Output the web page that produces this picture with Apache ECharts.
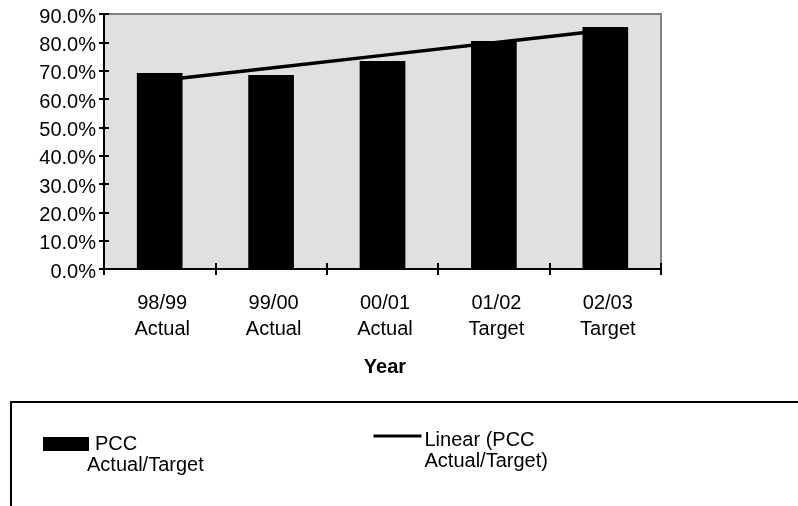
<!DOCTYPE html>
<html>
<head>
<meta charset="utf-8">
<script src="https://cdn.jsdelivr.net/npm/echarts@6/dist/echarts.min.js"></script>
<style>
  html, body { margin: 0; padding: 0; background: #fff; }
  #chart { width: 798px; height: 506px; }
</style>
</head>
<body>
<div id="chart"></div>
<script>
// Year labels and status shown under each bar
const years = ['98/99', '99/00', '00/01', '01/02', '02/03'];
const phases = ['Actual', 'Actual', 'Actual', 'Target', 'Target'];
// PCC actual / target percentages
const pccValues = [69.2, 68.5, 73.4, 80.5, 85.4];
// Value axis ticks
const yMin = 0;
const yMax = 90;
const yStep = 10;

const barName = 'PCC Actual/Target';
const trendName = 'Linear (PCC Actual/Target)';

const categories = years.map((y, i) => y + '\n' + phases[i]);

// Least-squares linear trend through the PCC values
function linearTrend(values) {
  const n = values.length;
  const xs = values.map((_, i) => i + 1);
  const mx = xs.reduce((a, b) => a + b, 0) / n;
  const my = values.reduce((a, b) => a + b, 0) / n;
  let sxy = 0, sxx = 0;
  for (let i = 0; i < n; i++) {
    sxy += (xs[i] - mx) * (values[i] - my);
    sxx += (xs[i] - mx) * (xs[i] - mx);
  }
  const slope = sxy / sxx;
  const icpt = my - slope * mx;
  return xs.map(x => icpt + slope * x);
}
const trendValues = linearTrend(pccValues);

const FONT = '"Liberation Sans", Arial, sans-serif';

const chart = echarts.init(document.getElementById('chart'), null, { renderer: 'canvas' });

chart.setOption({
  animation: false,
  backgroundColor: '#ffffff',
  textStyle: { fontFamily: FONT, color: '#000' },
  grid: {
    left: 104, top: 14, width: 557, height: 255,
    show: true, backgroundColor: '#e0e0e0', borderColor: '#808080', borderWidth: 2,
    outerBoundsMode: 'none'
  },
  xAxis: [
    {
      type: 'category', data: categories, position: 'bottom',
      axisLine: { lineStyle: { color: '#000', width: 2 } },
      axisTick: { show: true, length: 6, lineStyle: { color: '#000', width: 2 } },
      axisLabel: {
        color: '#000', fontSize: 20, lineHeight: 26, margin: 21, fontFamily: FONT,
        formatter: v => v.split('\n').map(s => '{c|' + s + '}').join('\n'),
        rich: { c: { fontSize: 20, lineHeight: 26, fontFamily: FONT, color: '#000', padding: [0, 0, 0, 5] } }
      },
      splitLine: { show: false },
      name: '{n|Year}', nameLocation: 'middle', nameGap: 88,
      nameTextStyle: {
        color: '#000', fontSize: 20, fontWeight: 'bold', fontFamily: FONT,
        rich: { n: { fontSize: 20, fontWeight: 'bold', fontFamily: FONT, color: '#000', padding: [0, 0, 0, 5] } }
      }
    },
    {
      type: 'category', data: categories, position: 'bottom',
      axisLine: { show: false },
      axisTick: { show: true, inside: true, length: 6, lineStyle: { color: '#000', width: 2 } },
      axisLabel: { show: false },
      splitLine: { show: false }
    }
  ],
  yAxis: [
    {
      type: 'value', min: yMin, max: yMax, interval: yStep, position: 'left',
      axisLine: { show: true, lineStyle: { color: '#000', width: 2 } },
      axisTick: { show: true, length: 5, lineStyle: { color: '#000', width: 2 } },
      axisLabel: {
        color: '#000', fontSize: 20, margin: 8, fontFamily: FONT,
        formatter: v => '{p|' + v.toFixed(1) + '%}',
        rich: { p: { fontSize: 20, fontFamily: FONT, color: '#000', padding: [6, 0, 0, 0] } }
      },
      splitLine: { show: false }
    },
    {
      type: 'value', min: yMin, max: yMax, interval: yStep, position: 'left',
      axisLine: { show: false },
      axisTick: { show: true, inside: true, length: 5, lineStyle: { color: '#000', width: 2 } },
      axisLabel: { show: false },
      splitLine: { show: false }
    }
  ],
  legend: [
    {
      data: [barName], left: 43, top: 412.5, padding: 0, orient: 'horizontal',
      itemWidth: 46, itemHeight: 14, icon: 'rect', selectedMode: false,
      formatter: () => '{a|PCC}\n{b|Actual/Target}',
      textStyle: {
        color: '#000', fontSize: 20, lineHeight: 21, fontFamily: FONT,
        padding: [21, 0, 0, -7],
        rich: {
          a: { fontSize: 20, lineHeight: 21, fontFamily: FONT, padding: [0, 0, 0, 8] },
          b: { fontSize: 20, lineHeight: 21, fontFamily: FONT }
        }
      }
    },
    {
      data: [trendName], left: 372, top: 400.5, padding: 0, orient: 'horizontal',
      itemWidth: 48, itemHeight: 14, selectedMode: false,
      itemStyle: { color: 'rgba(0,0,0,0)', borderColor: 'rgba(0,0,0,0)', borderWidth: 0, opacity: 0 },
      lineStyle: { color: '#000', width: 3 },
      formatter: () => '{a|Linear (PCC}\n{a|Actual/Target)}',
      textStyle: {
        color: '#000', fontSize: 20, lineHeight: 21, fontFamily: FONT,
        padding: [29, 0, 0, -2],
        rich: {
          a: { fontSize: 20, lineHeight: 21, fontFamily: FONT }
        }
      }
    }
  ],
  graphic: [
    {
      type: 'rect', z: -1,
      shape: { x: 11, y: 402, width: 830, height: 140 },
      style: { fill: 'none', stroke: '#000', lineWidth: 2 }
    }
  ],
  series: [
    {
      name: barName, type: 'bar', xAxisIndex: 0, yAxisIndex: 0,
      data: pccValues, barWidth: '41%',
      itemStyle: { color: '#000' }
    },
    {
      name: trendName, type: 'line', xAxisIndex: 0, yAxisIndex: 0,
      data: trendValues, symbol: 'none', z: 3,
      lineStyle: { color: '#000', width: 3.5 },
      itemStyle: { color: '#000' }
    }
  ]
});
</script>
</body>
</html>
